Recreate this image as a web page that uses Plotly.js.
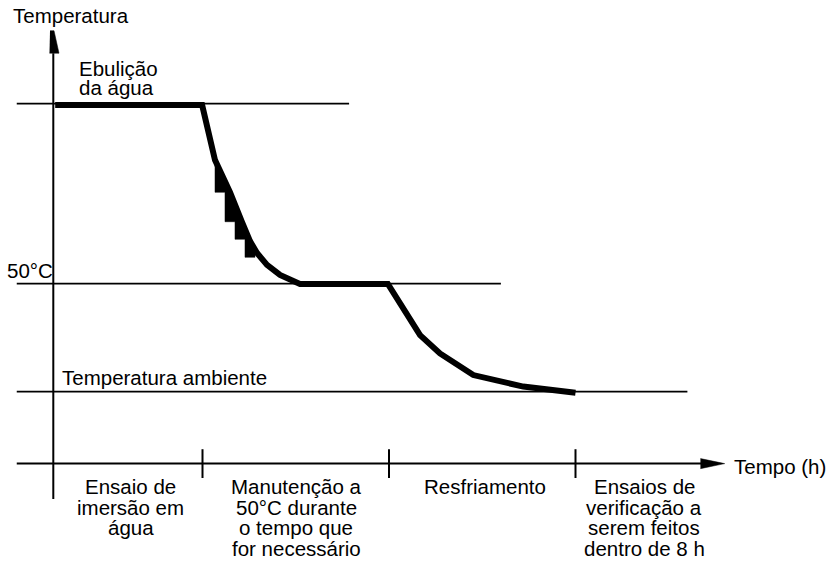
<!DOCTYPE html>
<html>
<head>
<meta charset="utf-8">
<script src="https://cdn.plot.ly/plotly-3.0.1.min.js"></script>
<style>html,body{margin:0;padding:0;background:#fff;}#chart{width:835px;height:566px;}</style>
</head>
<body>
<div id="chart"></div>
<script>
// ---- data (time in arbitrary phase units, temperature in °C) ----
const phaseBounds = [0, 4, 9, 14];
const boilingTemp = 100;
const holdTemp = 50;
const ambientTemp = 20;
const curveTime = [0.05, 3.99, 4.335, 4.737, 5.059, 5.273, 5.461, 5.729, 6.078, 6.614, 8.97, 9.832, 10.367, 11.26, 12.6, 14.0];
const curveTemp = [99.6, 99.6, 84.3, 75.4, 67.1, 61.8, 58.5, 55.2, 52.4, 49.9, 49.9, 35.7, 30.6, 24.6, 21.4, 19.7];
const stairTime = [4.335, 4.335, 4.603, 4.603, 4.871, 4.871, 5.139, 5.139, 5.407, 5.407, 4.997, 4.70, 4.39];
const stairTemp = [84.3, 75.36, 75.36, 67.19, 67.19, 62.31, 62.31, 57.31, 57.31, 59.33, 67.4, 75.4, 84.3];
const refLabels = ["Ebulição", "da água"];
const holdLabel = "50°C";
const ambientLabel = "Temperatura ambiente";
const yTitle = "Temperatura";
const xTitle = "Tempo (h)";
const phaseLabels = [
  ["Ensaio de", "imersão em", "água"],
  ["Manutenção a", "50°C durante", "o tempo que", "for necessário"],
  ["Resfriamento"],
  ["Ensaios de", "verificação a", "serem feitos", "dentro de 8 h"]
];

// ---- layout constants ----
const FONT = "Liberation Sans, Arial, sans-serif";
const FS = 20.5;
const lineStart = -0.98;
const refEnds = [7.93, 12.0, 17.0];
const axisEndX = 17.4, arrowTipX = 18.0;
const yAxisBottom = -9.8, yAxisTop = 114.0, yArrowTip = 120.25;
const tickHalf = 4.0;
const phaseLabelX = [2.07, 6.51, 11.57, 15.84];
const phaseLineY = [-6.28, -12.11, -17.86, -23.5];

const thin = {color: "#000", width: 1.7};
const traces = [];
function line(xs, ys, style) {
  traces.push({type: "scatter", mode: "lines", x: xs, y: ys, line: style, hoverinfo: "skip", showlegend: false});
}
function poly(xs, ys) {
  traces.push({type: "scatter", mode: "lines", x: xs, y: ys, fill: "toself", fillcolor: "#000",
    line: {color: "#000", width: 0.5}, hoverinfo: "skip", showlegend: false});
}

// reference levels
[boilingTemp, holdTemp, ambientTemp].forEach((t, i) => line([lineStart, refEnds[i]], [t, t], thin));
// axes
line([lineStart, axisEndX], [0, 0], {color: "#000", width: 2});
line([0, 0], [yAxisBottom, yAxisTop], {color: "#000", width: 2});
poly([17.35, arrowTipX, 17.35], [1.4, 0, -1.4]);
poly([-0.088, 0.019, 0.153, -0.102], [yArrowTip, yArrowTip, yAxisTop, yAxisTop]);
// phase ticks
phaseBounds.slice(1).forEach(b => line([b, b], [tickHalf, -tickHalf], {color: "#000", width: 2}));
// temperature curve
poly(stairTime, stairTemp);
line(curveTime, curveTemp, {color: "#000", width: 6});

const ann = [];
function txt(text, x, y, xanchor) {
  ann.push({text: text, x: x, y: y, xref: "x", yref: "y", showarrow: false, xanchor: xanchor, yanchor: "middle",
    font: {family: FONT, size: FS, color: "#000"}});
}
txt(yTitle, -1.142, 124.4, "left");
txt(refLabels[0], 0.643, 109.7, "left");
txt(refLabels[1], 0.643, 104.35, "left");
txt(holdLabel, 0.04, 53.7, "right");
txt(ambientLabel, 0.172, 23.8, "left");
txt(xTitle, 18.2, -0.7, "left");
phaseLabels.forEach((lines, i) => lines.forEach((s, j) => txt(s, phaseLabelX[i], phaseLineY[j], "center")));

const layout = {
  width: 835, height: 566,
  margin: {l: 0, r: 0, t: 0, b: 0},
  paper_bgcolor: "#fff", plot_bgcolor: "#fff",
  showlegend: false,
  xaxis: {visible: false, range: [-1.429, 20.957], fixedrange: true},
  yaxis: {visible: false, range: [-28.44, 128.78], fixedrange: true},
  annotations: ann
};
Plotly.newPlot("chart", traces, layout, {staticPlot: true, displayModeBar: false});
</script>
</body>
</html>
